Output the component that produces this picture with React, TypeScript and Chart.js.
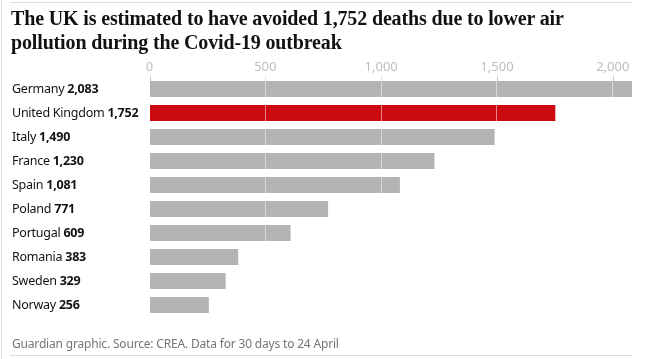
import React, { useEffect, useRef } from "react";
import { Chart, registerables } from "chart.js";

Chart.register(...registerables);

const countries = ["Germany", "United Kingdom", "Italy", "France", "Spain", "Poland", "Portugal", "Romania", "Sweden", "Norway"];
const deaths = [2083, 1752, 1490, 1230, 1081, 771, 609, 383, 329, 256];
const highlight = "United Kingdom";
const xTicks = [0, 500, 1000, 1500, 2000];

const titleText = ["The UK is estimated to have avoided 1,752 deaths due to lower air", "pollution during the Covid-19 outbreak"];
const footerText = "Guardian graphic. Source: CREA. Data for 30 days to 24 April";

const SANS = "'Noto Sans', sans-serif";
const fmt = (v: number) => v.toLocaleString("en-GB");

export default function App() {
  const ref = useRef<HTMLCanvasElement | null>(null);

  useEffect(() => {
    document.body.style.margin = "0";
    const canvas = ref.current;
    if (!canvas) return;

    const labelPlugin = {
      id: "rowLabels",
      afterDraw(chart: any) {
        const ctx = chart.ctx;
        const y = chart.scales.y;
        ctx.save();
        ctx.textBaseline = "middle";
        ctx.fillStyle = "#121212";
        try { (ctx as any).letterSpacing = "-0.25px"; } catch (e) {}
        countries.forEach((name, i) => {
          const py = y.getPixelForValue(i);
          ctx.font = `400 12.5px ${SANS}`;
          ctx.fillText(name + " ", 12, py);
          const w = ctx.measureText(name + " ").width;
          ctx.font = `700 12.5px ${SANS}`;
          ctx.fillText(fmt(deaths[i]), 12 + w, py);
        });
        ctx.restore();
      },
      afterDatasetsDraw(chart: any) {
        const ctx = chart.ctx;
        const x = chart.scales.x;
        const top = chart.chartArea.top;
        ctx.save();
        ctx.strokeStyle = "#cccccc";
        ctx.lineWidth = 1;
        xTicks.forEach((t) => {
          const px = Math.round(x.getPixelForValue(t)) + 0.5;
          ctx.beginPath();
          ctx.moveTo(px, top - 1);
          ctx.lineTo(px, top + 4);
          ctx.stroke();
        });
        ctx.restore();
      },
    };

    const chart = new Chart(canvas, {
      type: "bar",
      data: {
        labels: countries,
        datasets: [
          {
            data: deaths,
            backgroundColor: countries.map((c) => (c === highlight ? "#cc0a11" : "#b3b3b3")),
            borderWidth: 0,
            barPercentage: 0.66,
            categoryPercentage: 1,
          },
        ],
      },
      options: {
        indexAxis: "y",
        animation: false,
        responsive: false,
        maintainAspectRatio: false,
        layout: { padding: { top: 50, left: 0, right: 22, bottom: 42 } },
        plugins: { legend: { display: false }, tooltip: { enabled: false }, title: { display: false } },
        scales: {
          x: {
            position: "top",
            min: 0,
            max: Math.max(...deaths),
            afterBuildTicks(scale: any) {
              scale.ticks = xTicks.map((v) => ({ value: v }));
            },
            afterFit(scale: any) {
              scale.height = 27;
            },
            ticks: {
              color: "#bdbdbd",
              font: { family: SANS, size: 13 },
              padding: 2,
              maxRotation: 0,
              callback: (v: any) => fmt(Number(v)),
            },
            grid: {
              z: 1,
              color: "rgba(255,255,255,0.5)",
              drawTicks: false,
            },
            border: { display: false },
          },
          y: {
            ticks: { display: false },
            grid: { display: false },
            border: { display: false },
            afterFit(scale: any) {
              scale.width = 149.5;
            },
          },
        },
      },
      plugins: [labelPlugin],
    });
    return () => chart.destroy();
  }, []);

  return (
    <div style={{ position: "fixed", left: 0, top: 0, width: 654, height: 359, background: "#fff", overflow: "hidden" }}>
      <div style={{ position: "absolute", left: 1, top: 0, width: 1, height: 359, background: "#dcdcdc" }} />
      <div style={{ position: "absolute", left: 10, top: 2, width: 622, height: 1, background: "#dcdcdc" }} />
      <div style={{ position: "absolute", left: 10, top: 355, width: 622, height: 1, background: "#dcdcdc" }} />
      <canvas ref={ref} width={654} height={359} style={{ position: "absolute", left: 0, top: 0 }} />
      <div
        style={{
          position: "absolute",
          left: 11,
          top: 6,
          fontFamily: "'Liberation Serif', serif",
          fontWeight: 700,
          fontSize: 20,
          lineHeight: "24px",
          letterSpacing: "-0.15px",
          color: "#121212",
          whiteSpace: "nowrap",
        }}
      >
        {titleText[0]}
        <br />
        {titleText[1]}
      </div>
      <div
        style={{
          position: "absolute",
          left: 12,
          top: 336,
          fontFamily: SANS,
          fontSize: 12,
          lineHeight: "16px",
          letterSpacing: "-0.18px",
          color: "#767676",
          whiteSpace: "nowrap",
        }}
      >
        {footerText}
      </div>
    </div>
  );
}
